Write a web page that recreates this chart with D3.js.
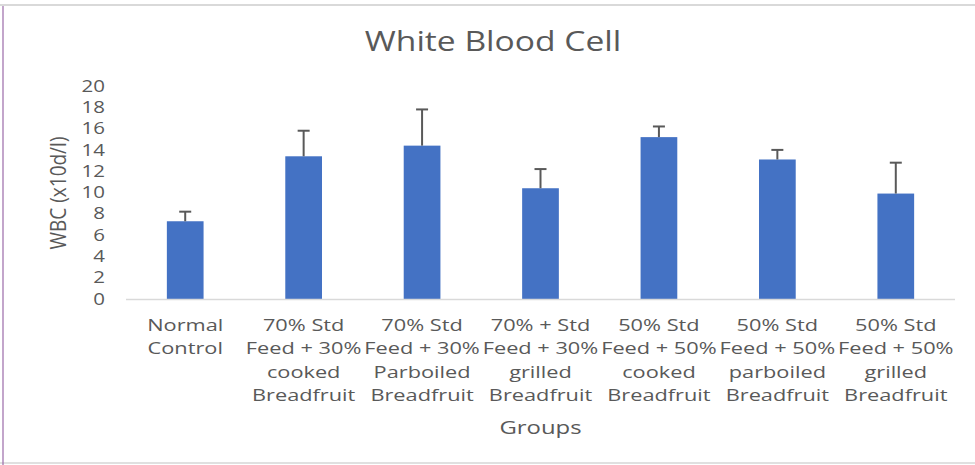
<!DOCTYPE html>
<html><head><meta charset="utf-8">
<script src="https://cdn.jsdelivr.net/npm/d3@7"></script>
<style>
html,body{margin:0;padding:0;background:#fff;}
svg{display:block;}
text{font-family:"Open Sans","Noto Sans",sans-serif;fill:#595959;}
</style></head>
<body>
<svg id="c" width="975" height="465"></svg>
<script>
const categories = [
  ["Normal","Control"],
  ["70% Std","Feed + 30%","cooked","Breadfruit"],
  ["70% Std","Feed + 30%","Parboiled","Breadfruit"],
  ["70% + Std","Feed + 30%","grilled","Breadfruit"],
  ["50% Std","Feed + 50%","cooked","Breadfruit"],
  ["50% Std","Feed + 50%","parboiled","Breadfruit"],
  ["50% Std","Feed + 50%","grilled","Breadfruit"]
];
const wbcValues = [7.3, 13.4, 14.4, 10.4, 15.2, 13.1, 9.9];
const wbcErrors = [0.9, 2.4, 3.4, 1.8, 1.0, 0.9, 2.9];
const yTicks = [0,2,4,6,8,10,12,14,16,18,20];
const title = "White Blood Cell";
const xTitle = "Groups";
const yTitle = "WBC (x10d/l)";

const svg = d3.select("#c");
const W = 975, H = 465;
const plot = {left:126, right:955, top:86, bottom:299};
const SX = 1.28; // horizontal stretch of text seen in the reference

// frame
svg.append("line").attr("x1",0).attr("x2",W).attr("y1",5).attr("y2",5).attr("stroke","#d9d9d9").attr("stroke-width",2);
svg.append("line").attr("x1",0).attr("x2",W).attr("y1",463).attr("y2",463).attr("stroke","#e0e0e0").attr("stroke-width",2);
svg.append("line").attr("x1",3).attr("x2",3).attr("y1",6).attr("y2",H).attr("stroke","#9b6aa8").attr("stroke-width",1.2);

const idx = categories.map((d,i)=>i);
const x = d3.scaleBand().domain(idx).range([plot.left, plot.right]).paddingInner(0.69).paddingOuter(0.345);
const y = d3.scaleLinear().domain([0,20]).range([plot.bottom, plot.top]);

// bars
svg.append("g").selectAll("rect").data(wbcValues).join("rect")
  .attr("x",(d,i)=>x(i)).attr("width",x.bandwidth())
  .attr("y",d=>y(d)).attr("height",d=>y(0)-y(d))
  .attr("fill","#4472c4");

// error bars
const eg = svg.append("g").attr("stroke","#595959").attr("stroke-width",2);
wbcValues.forEach((v,i)=>{
  const cx = x(i)+x.bandwidth()/2;
  eg.append("line").attr("x1",cx).attr("x2",cx).attr("y1",y(v)).attr("y2",y(v+wbcErrors[i]));
  eg.append("line").attr("x1",cx-6).attr("x2",cx+6).attr("y1",y(v+wbcErrors[i])).attr("y2",y(v+wbcErrors[i]));
});

// x axis line
svg.append("line").attr("x1",plot.left).attr("x2",plot.right).attr("y1",y(0)+0.5).attr("y2",y(0)+0.5).attr("stroke","#d9d9d9").attr("stroke-width",1.5);

// y axis
const yAxis = d3.axisLeft(y).tickValues(yTicks).tickSize(0).tickPadding(0);
const ya = svg.append("g").attr("transform","translate(105,0)").call(yAxis);
ya.select(".domain").remove();
ya.selectAll(".tick text").attr("font-size",16).attr("fill","#595959")
  .attr("font-family","'Open Sans',sans-serif").attr("x",0)
  .attr("transform",`scale(${SX},1)`);

// category labels
const lg = svg.append("g");
categories.forEach((lines,i)=>{
  const cx = x(i)+x.bandwidth()/2;
  const t = lg.append("text").attr("text-anchor","middle").attr("font-size",17)
    .attr("transform",`translate(${cx},331) scale(${SX},1)`);
  lines.forEach((l,j)=>t.append("tspan").attr("x",0).attr("dy", j===0?0:23.4).text(l));
});

// titles
svg.append("text").attr("transform","translate(493,51) scale(1.2,1)").attr("text-anchor","middle").attr("font-size",28).text(title);
svg.append("text").attr("transform",`translate(${(plot.left+plot.right)/2},434) scale(1.33,1)`).attr("text-anchor","middle").attr("font-size",18).text(xTitle);
svg.append("text").attr("transform","translate(66,193) scale(1.15,1) rotate(-90)").attr("text-anchor","middle").attr("font-size",19).text(yTitle);
</script>
</body></html>
